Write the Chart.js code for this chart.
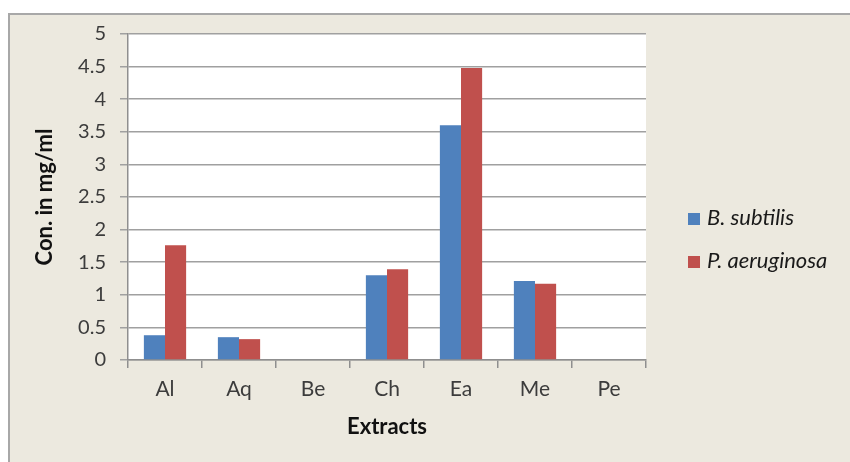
<!DOCTYPE html>
<html>
<head>
<meta charset="utf-8">
<script src="https://cdn.jsdelivr.net/npm/chart.js@4/dist/chart.umd.min.js"></script>
<style>
  html, body { margin: 0; padding: 0; background: #ffffff; }
  #wrap { width: 850px; height: 462px; }
</style>
</head>
<body>
<div id="wrap"><canvas id="c" width="850" height="462"></canvas></div>
<script>
// Minimum concentration per extract (mg/ml) for each test organism
const extracts = ['Al', 'Aq', 'Be', 'Ch', 'Ea', 'Me', 'Pe'];
const bSubtilis = [0.38, 0.35, 0, 1.30, 3.60, 1.21, 0];
const pAeruginosa = [1.76, 0.32, 0, 1.39, 4.48, 1.17, 0];
const seriesNames = ['B. subtilis', 'P. aeruginosa'];
const yMin = 0, yMax = 5, yStep = 0.5;
const yTitle = 'Con. in mg/ml';
const xTitle = 'Extracts';

const FONT = 'Lato, "Liberation Sans", sans-serif';
const BLUE = '#4F81BD';
const RED = '#C0504D';

// Beige chart frame with a white plot area
const framePlugin = {
  id: 'frame',
  beforeDraw(chart) {
    const { ctx, chartArea: a } = chart;
    ctx.save();
    ctx.fillStyle = '#ffffff';
    ctx.fillRect(0, 0, chart.width, chart.height);
    ctx.fillStyle = '#ECE9DF';
    ctx.fillRect(8, 13, chart.width, chart.height);
    ctx.strokeStyle = '#A8A8A8';
    ctx.lineWidth = 2;
    ctx.beginPath();
    ctx.moveTo(9, chart.height + 2);
    ctx.lineTo(9, 14);
    ctx.lineTo(chart.width + 2, 14);
    ctx.stroke();
    ctx.fillStyle = '#ffffff';
    ctx.fillRect(a.left, a.top, a.right - a.left, a.bottom - a.top);
    ctx.restore();
  }
};

// Legend drawn to the right of the plot from the datasets
const legendPlugin = {
  id: 'sideLegend',
  afterDraw(chart) {
    const ctx = chart.ctx;
    const x0 = 688, y0 = 219, gap = 43;
    ctx.save();
    chart.data.datasets.forEach((ds, i) => {
      const y = y0 + i * gap;
      ctx.fillStyle = ds.backgroundColor;
      ctx.fillRect(x0, y - 6, 12, 12);
      ctx.fillStyle = '#1a1a1a';
      ctx.font = 'italic 22px ' + FONT;
      ctx.textBaseline = 'middle';
      ctx.textAlign = 'left';
      ctx.fillText(ds.label, x0 + 19, y - 1);
    });
    ctx.restore();
  }
};

new Chart(document.getElementById('c'), {
  type: 'bar',
  data: {
    labels: extracts,
    datasets: [
      { label: seriesNames[0], data: bSubtilis, backgroundColor: BLUE, borderWidth: 0 },
      { label: seriesNames[1], data: pAeruginosa, backgroundColor: RED, borderWidth: 0 }
    ]
  },
  options: {
    responsive: false,
    animation: false,
    devicePixelRatio: 1,
    layout: { padding: { top: 34, right: 204, left: 0, bottom: 0 } },
    plugins: {
      legend: { display: false },
      tooltip: { enabled: false }
    },
    datasets: { bar: { categoryPercentage: 0.571, barPercentage: 1 } },
    scales: {
      x: {
        afterFit(s) { s.height = 102; },
        grid: {
          offset: true,
          drawOnChartArea: false,
          drawTicks: true,
          tickLength: 8,
          color: '#8F8F8F',
          lineWidth: 1.5
        },
        border: { display: true, color: '#8F8F8F', width: 1.5 },
        ticks: {
          color: '#3c3c3c',
          padding: 9,
          font: { family: FONT, size: 21 },
          maxRotation: 0
        },
        title: {
          display: true,
          text: xTitle,
          color: '#111111',
          font: { family: FONT, size: 22, weight: 'bold' },
          padding: { top: 0, bottom: 22 }
        }
      },
      y: {
        min: yMin,
        max: yMax,
        afterFit(s) { s.width = 128; },
        ticks: {
          stepSize: yStep,
          color: '#3c3c3c',
          padding: 14,
          font: { family: FONT, size: 20 },
          callback: (v) => String(v)
        },
        grid: {
          color: '#A0A0A0',
          lineWidth: 1.5,
          drawTicks: true,
          tickLength: 8
        },
        border: { display: true, color: '#8F8F8F', width: 1.5 },
        title: {
          display: true,
          text: yTitle,
          color: '#111111',
          font: { family: FONT, size: 22, weight: 'bold' },
          padding: { top: 32, bottom: 0 }
        }
      }
    }
  },
  plugins: [framePlugin, legendPlugin]
});
</script>
</body>
</html>
